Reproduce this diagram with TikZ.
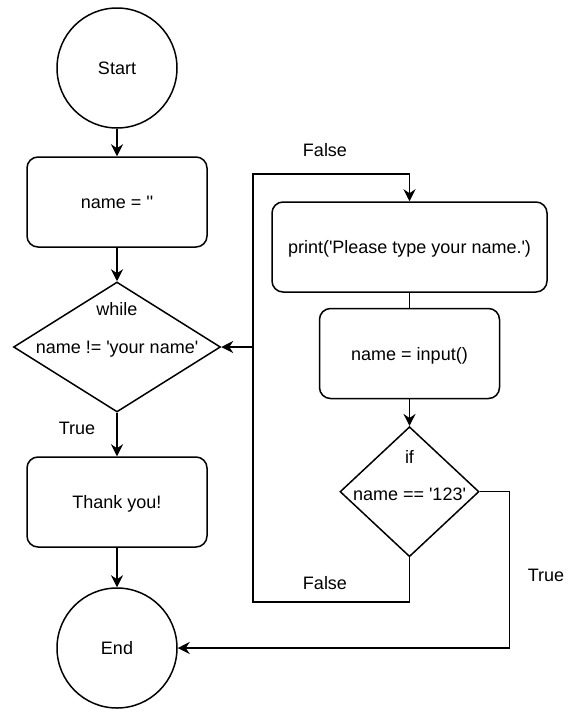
\documentclass[tikz,border=0pt]{standalone}
\usepackage{fontspec}
\setmainfont{Liberation Sans}
\usetikzlibrary{shapes.geometric,arrows.meta}
\newcommand{\sq}{\textquotesingle}
\begin{document}
\begin{tikzpicture}[x=1pt,y=-1pt,line width=1.5pt,
  font=\fontsize{18}{21.6}\selectfont,
  ar/.style={-{Stealth[length=12pt,width=12pt,inset=4pt]}},
  term/.style={circle,draw,minimum size=120pt,inner sep=0pt,text height=13pt,text depth=0pt},
  proc/.style={rectangle,draw,rounded corners=11pt,minimum width=#1,minimum height=90pt,inner sep=0pt,text height=13pt,text depth=0pt},
  proc/.default=180pt,
  dec/.style={diamond,draw,inner sep=0pt},
  lbl/.style={anchor=base,inner sep=0pt}]
\useasboundingbox (0,0) rectangle (578,718);
\node[term] (start) at (117,68) {Start};
\node[proc] (init) at (117,202) {name = \sq\sq};
\node[dec,minimum width=207pt,minimum height=130pt] (wh) at (117,347) {};
\node[lbl] (whA) at (117,315.5) {while};
\node[lbl] (whB) at (117,353) {name != \sq your name\sq};
\node[proc] (thx) at (117,502) {Thank you!};
\node[term] (end) at (117,648) {End};
\node[proc=275pt] (prt) at (409.5,247) {print(\sq Please type your name.\sq)};
\node[proc] (inp) at (409.5,353.5) {name = input()};
\node[dec,minimum width=139pt,minimum height=130pt] (iff) at (409.5,491.7) {};
\node[lbl] (ifA) at (409.5,463) {if};
\node[lbl] (ifB) at (409.5,500) {name == \sq 123\sq};
\node[lbl] (f1) at (325,156) {False};
\node[lbl] (f2) at (325,589) {False};
\node[lbl] (t1) at (77,434) {True};
\node[lbl] (t2) at (546,581) {True};
\coordinate (lb) at (253,602);
\coordinate (lt) at (253,174);
\coordinate (tr) at (509.5,648);
\draw[ar] (start) -- (init);
\draw[ar] (init) -- (wh);
\draw[ar] (wh) -- (thx);
\draw[ar] (thx) -- (end);
\draw (prt) -- (inp);
\draw[ar] (inp) -- (iff);
\draw[ar] (iff.south) |- (lb) -- (lt) -| (prt.north);
\draw[ar] (wh.east -| lt) -- (wh.east);
\draw[ar] (iff.east) -| (tr) -- (end.east);
\end{tikzpicture}
\end{document}
